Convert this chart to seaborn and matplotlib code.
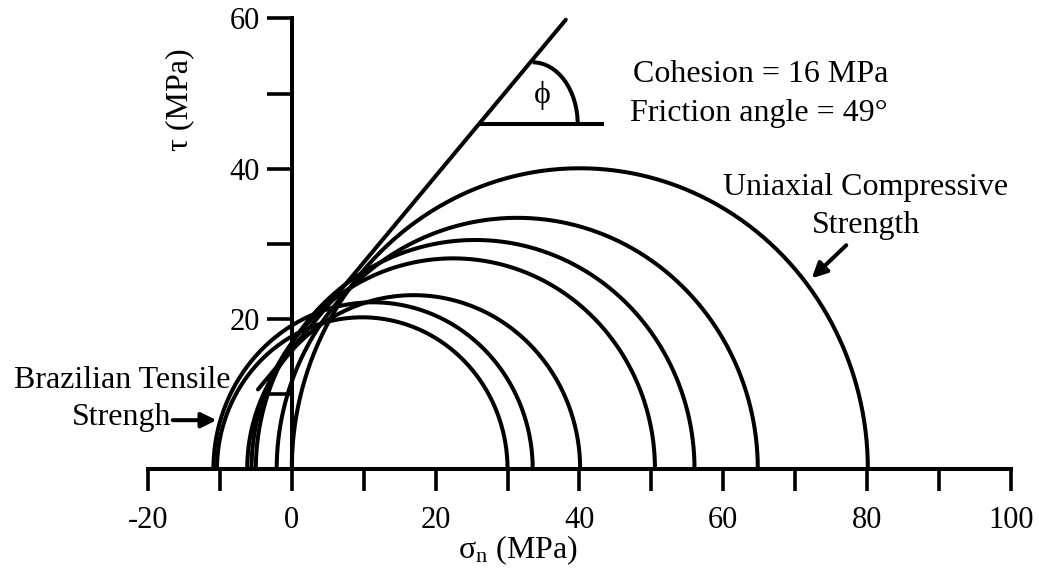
import numpy as np
import pandas as pd
import matplotlib
matplotlib.use("Agg")
import matplotlib.pyplot as plt
import seaborn as sns
from matplotlib.patches import Arc
from matplotlib.ticker import FixedLocator, FuncFormatter

# ---------------- data ----------------
circle_left = [0.0, -2.1, -5.0, -5.6, -6.2, -10.9, -10.4]     # sigma_3 of each Mohr circle
circle_right = [80.1, 64.8, 56.0, 50.5, 40.1, 33.5, 30.0]     # sigma_1 of each Mohr circle
cohesion = 16.0
friction_angle = 49.0
envelope_x = [-4.7, 38.1]
x_ticks = list(range(-20, 101, 10))
x_tick_labels = {-20: "-20", 0: "0", 20: "20", 40: "40", 60: "60", 80: "80", 100: "100"}
y_ticks = list(range(10, 61, 10))
y_tick_labels = {20: "20", 40: "40", 60: "60"}

# ---------------- style ----------------
sns.set_style("white")
plt.rcParams["font.family"] = ["Liberation Serif", "DejaVu Serif"]
plt.rcParams["mathtext.default"] = "regular"
for k in ["text.color", "axes.labelcolor", "xtick.color", "ytick.color"]:
    plt.rcParams[k] = "black"
LW = 2.9

fig = plt.figure(figsize=(10.39, 5.72), dpi=100)
ax = fig.add_axes([0.1424, 0.1801, 0.8306, 0.7876])

# Mohr circles
rows = []
theta = np.linspace(0, np.pi, 300)
for i, (l, r) in enumerate(zip(circle_left, circle_right)):
    c, rad = (l + r) / 2, (r - l) / 2
    for t in theta:
        rows.append({"circle": i, "x": c + rad * np.cos(t), "y": rad * np.sin(t)})
circles = pd.DataFrame(rows)
sns.lineplot(data=circles, x="x", y="y", units="circle", estimator=None, sort=False,
             color="black", linewidth=LW, ax=ax, legend=False)

# failure envelope
tan_phi = np.tan(np.radians(friction_angle))
env = pd.DataFrame({"x": envelope_x, "y": [cohesion + tan_phi * x for x in envelope_x]})
sns.lineplot(data=env, x="x", y="y", color="black", linewidth=LW, ax=ax, sort=False)

# friction angle marker
marker_y = 45.9
marker_x0 = (marker_y - cohesion) / tan_phi
ax.plot([marker_x0, 43.4], [marker_y, marker_y], color="black", lw=LW, solid_capstyle="butt")
ax.add_patch(Arc((33.5, marker_y), 2 * 6.26, 2 * 8.26, theta1=0, theta2=90,
                 color="black", lw=LW))
ax.text(34.9, 49.8, "ϕ", fontsize=23, ha="center", va="center",
        family=["Liberation Serif", "DejaVu Serif"])

for ln in ax.lines:
    ln.set_clip_on(False)

# texts
FS = 23
ax.text(47.4, 52.6, "Cohesion = 16 MPa", fontsize=FS, ha="left", va="center")
ax.text(47.0, 47.4, "Friction angle = 49°", fontsize=FS, ha="left", va="center")
ax.text(79.8, 35.0, "Uniaxial Compressive\nStrength", fontsize=FS, ha="center",
        va="center", multialignment="center", linespacing=1.4)
ax.text(-23.6, 11.85, "Brazilian Tensile", fontsize=FS, ha="center", va="center", clip_on=False)
ax.text(-16.7, 6.8, "Strengh", fontsize=FS, ha="right", va="center", clip_on=False)

arrow_kw = dict(arrowstyle="-|>,head_length=0.9,head_width=0.45", lw=LW, color="black",
                shrinkA=0, shrinkB=0)
ax.annotate("", xy=(72.3, 25.4), xytext=(77.1, 29.8), arrowprops=arrow_kw)
ax.annotate("", xy=(-10.47, 6.5), xytext=(-16.55, 6.5), arrowprops=arrow_kw,
            annotation_clip=False)

# axes
ax.set_xlim(-20, 100)
ax.set_ylim(0, 60)
for s in ["top", "right"]:
    ax.spines[s].set_visible(False)
ax.spines["left"].set_position(("data", 0))
for s in ["left", "bottom"]:
    ax.spines[s].set_linewidth(LW)
    ax.spines[s].set_color("black")
    ax.spines[s].set_capstyle("projecting")

ax.xaxis.set_major_locator(FixedLocator(x_ticks))
ax.xaxis.set_major_formatter(FuncFormatter(lambda v, p: x_tick_labels.get(int(round(v)), "")))
ax.yaxis.set_major_locator(FixedLocator(y_ticks))
ax.yaxis.set_major_formatter(FuncFormatter(lambda v, p: y_tick_labels.get(int(round(v)), "")))
ax.tick_params(axis="x", direction="out", length=16, width=2.6, pad=11, labelsize=22,
               color="black", labelcolor="black", bottom=True)
ax.tick_params(axis="y", direction="out", length=18, width=2.6, pad=5, labelsize=22,
               color="black", labelcolor="black", left=True)

ax.set_xlabel("σ$_{n}$ (MPa)", fontsize=FS, color="black")
ax.xaxis.set_label_coords(0.4287, -0.18)
ax.xaxis.label.set_va("center")
ax.set_ylabel("τ (MPa)", fontsize=FS, color="black")
ax.yaxis.set_label_coords(0.037, 0.819)
ax.yaxis.label.set_va("center")
ax.yaxis.label.set_ha("center")

fig.savefig("out.png", dpi=100)
